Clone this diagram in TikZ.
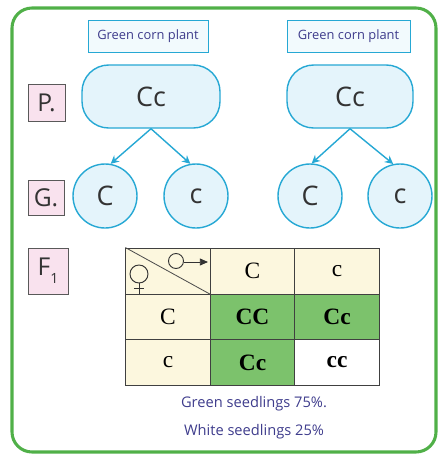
\documentclass[tikz,border=0pt]{standalone}
\usepackage{fontspec}
\setmainfont{Liberation Serif}
\newfontfamily\labelfont{Open Sans}
\usetikzlibrary{arrows.meta, positioning}
\definecolor{borderGreen}{RGB}{80,176,72}
\definecolor{cyanLine}{RGB}{38,168,212}
\definecolor{cyanFill}{RGB}{228,244,251}
\definecolor{pinkFill}{RGB}{249,226,238}
\definecolor{creamFill}{RGB}{252,247,222}
\definecolor{cellGreen}{RGB}{124,194,108}
\definecolor{textBlue}{RGB}{62,60,140}
\begin{document}
\begin{tikzpicture}[
                    x=0.03cm, y=-0.03cm,
                    plantlabel/.style={draw=cyanLine, fill=cyanFill!50, text=textBlue, font=\labelfont\fontsize{11}{13}\selectfont, minimum height=0.96cm, inner sep=1pt},
                    genotype/.style={draw=cyanLine, line width=1.2pt, fill=cyanFill, rounded corners=0.8cm, minimum height=1.89cm, text=black!80, font=\labelfont\fontsize{23}{25}\selectfont},
                    gamete/.style={circle, draw=cyanLine, line width=1.2pt, fill=cyanFill, minimum size=1.92cm, inner sep=0pt, text=black!80, font=\labelfont\fontsize{23}{25}\selectfont},
                    stage/.style={draw=black!65, fill=pinkFill, inner sep=0pt, text=black!80, font=\labelfont\fontsize{21}{23}\selectfont},
                    cell/.style={draw=black!75, line width=0.8pt, fill=creamFill, minimum width=2.53cm, minimum height=1.38cm, inner sep=0pt, font=\fontsize{20}{22}\selectfont},
                    gametearrow/.style={draw=cyanLine, line width=1.2pt, -{Stealth[length=7pt, width=7pt]}},
                    note/.style={text=textBlue, font=\labelfont\fontsize{12.5}{14}\selectfont}
                ]
                    \useasboundingbox (0,0) rectangle (440,464);
                    % Frame
                    \draw [borderGreen, line width=2.6pt, rounded corners=0.6cm] (12,8) rectangle (436,452);

                    % Parents
                    \node [plantlabel, minimum width=3.6cm] (labelLeft) at (148,36) {Green corn plant};
                    \node [plantlabel, minimum width=3.69cm] (labelRight) at (348.5,36) {Green corn plant};
                    \node [genotype, minimum width=4.14cm] (parentLeft) at (151,96.5) {Cc};
                    \node [genotype, minimum width=3.78cm] (parentRight) at (350,96.5) {Cc};

                    % Gametes
                    \node [gamete] (gamLeftC) at (105,196) {C};
                    \node [gamete] (gamLeftc) at (196,196) {c};
                    \node [gamete] (gamRightC) at (310,196) {C};
                    \node [gamete] (gamRightc) at (400,196) {c};
                    \path [gametearrow] (parentLeft.south) -- (gamLeftC.80);
                    \path [gametearrow] (parentLeft.south) -- (gamLeftc.100);
                    \path [gametearrow] (parentRight.south) -- (gamRightC.87);
                    \path [gametearrow] (parentRight.south) -- (gamRightc.102);

                    % Stage tags
                    \node [stage, minimum width=1.11cm, minimum height=1.11cm] (tagP) at (46.5,102.5) {P.};
                    \node [stage, minimum width=1.08cm, minimum height=1.05cm] (tagG) at (46,197.5) {G.};
                    \node [stage, minimum width=1.2cm, minimum height=1.38cm] (tagF) at (48,271) {F\raisebox{-0.6ex}{\fontsize{12}{14}\selectfont 1}};

                    % Punnett square
                    \node [cell] (corner) at (168,271) {};
                    \node [cell] (colC) at (252.5,271) {C};
                    \node [cell] (colc) at (337,271) {c};
                    \node [cell] (rowC) at (168,317) {C};
                    \node [cell, fill=cellGreen] (CC) at (252.5,317) {\textbf{CC}};
                    \node [cell, fill=cellGreen] (Cc) at (337,317) {\textbf{Cc}};
                    \node [cell] (rowc) at (168,362.5) {c};
                    \node [cell, fill=cellGreen] (cC) at (252.5,362.5) {\textbf{Cc}};
                    \node [cell, fill=white] (cc) at (337,362.5) {\textbf{cc}};
                    \draw [black!70, line width=0.7pt] (corner.north west) -- (corner.south east);
                    % Male and female signs
                    \draw [black!80, line width=0.8pt] (176,261) circle [radius=7.5];
                    \draw [black!80, line width=0.8pt, -{Triangle[length=7pt, width=6pt]}] (183.5,262) -- (208,262);
                    \draw [black!80, line width=0.8pt] (139,274) circle [radius=9];
                    \draw [black!80, line width=0.8pt] (139,283) -- (139,294) (134,288) -- (144,288);

                    % Result
                    \node [note] (green) at (254,404) {Green seedlings 75\%.};
                    \node [note] (white) at (254,432) {White seedlings 25\%};
            \end{tikzpicture}
\end{document}
